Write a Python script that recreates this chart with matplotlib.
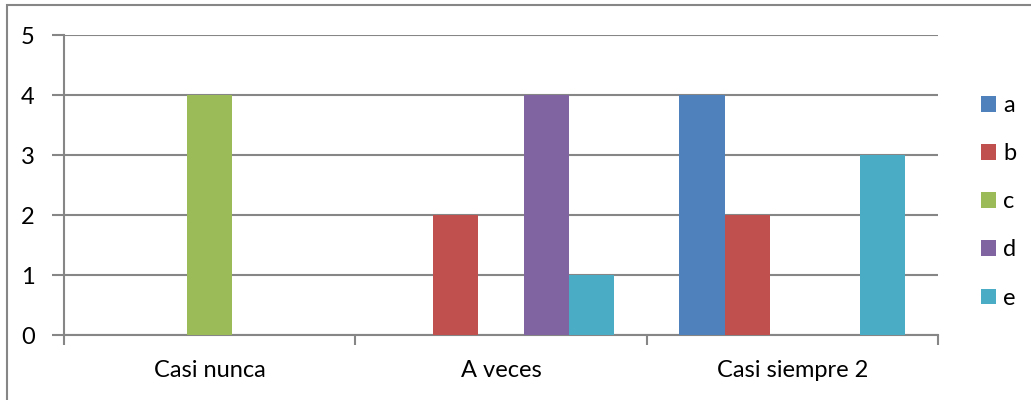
import matplotlib
matplotlib.use("Agg")
import matplotlib.pyplot as plt
from matplotlib.patches import Rectangle, Patch
import numpy as np

categories = ["Casi nunca", "A veces", "Casi siempre 2"]
series = ["a", "b", "c", "d", "e"]
a = [0, 0, 4]
b = [0, 2, 2]
c = [4, 0, 0]
d = [0, 4, 0]
e = [0, 1, 3]
values = [a, b, c, d, e]
colors = ["#4F81BD", "#C0504D", "#9BBB59", "#8064A2", "#4BACC6"]
yticks = [0, 1, 2, 3, 4, 5]

plt.rcParams['font.family'] = ['Lato', 'DejaVu Sans']
fs = 17

fig = plt.figure(figsize=(10.31, 4.0), dpi=100)
fig.patches.append(Rectangle((7/1031, -0.1), 1.2, (400-5)/400 + 0.1, transform=fig.transFigure,
                             fill=False, edgecolor="#868686", linewidth=1.5, zorder=0))
ax = fig.add_axes([64/1031, 65/400, (938-64)/1031, 300/400])

x = np.arange(len(categories))
w = 0.155
for j, (name, vals) in enumerate(zip(series, values)):
    ax.bar(x + (j - 2) * w, vals, width=w, color=colors[j], label=name, zorder=3)

ax.set_xlim(-0.5, 2.5)
ax.set_ylim(0, 5)
ax.set_yticks(yticks)
ax.set_yticklabels([str(t) for t in yticks], fontsize=fs)
ax.yaxis.grid(True, color="#868686", linewidth=1.5, zorder=0)
ax.set_axisbelow(True)

ax.set_xticks(x)
ax.set_xticklabels(categories, fontsize=fs)
ax.set_xticks([-0.5, 0.5, 1.5, 2.5], minor=True)
ax.tick_params(axis='x', which='major', length=0, pad=18)
ax.tick_params(axis='x', which='minor', length=7, width=1.5, color="#868686", direction='out')
ax.tick_params(axis='y', length=9, width=1.5, color="#868686", pad=12)

for s in ["top", "right"]:
    ax.spines[s].set_visible(False)
for s in ["left", "bottom"]:
    ax.spines[s].set_color("#868686")
    ax.spines[s].set_linewidth(1.5)

handles = [Patch(facecolor=col, label=n) for col, n in zip(colors, series)]
fig.legend(handles=handles, loc="upper left", bbox_to_anchor=(981/1031, 1 - 95/400),
           frameon=False, fontsize=fs, handlelength=0.64, handleheight=0.64,
           handletextpad=0.3, labelspacing=1.15, borderpad=0, borderaxespad=0)

fig.savefig("out.png", dpi=100)
